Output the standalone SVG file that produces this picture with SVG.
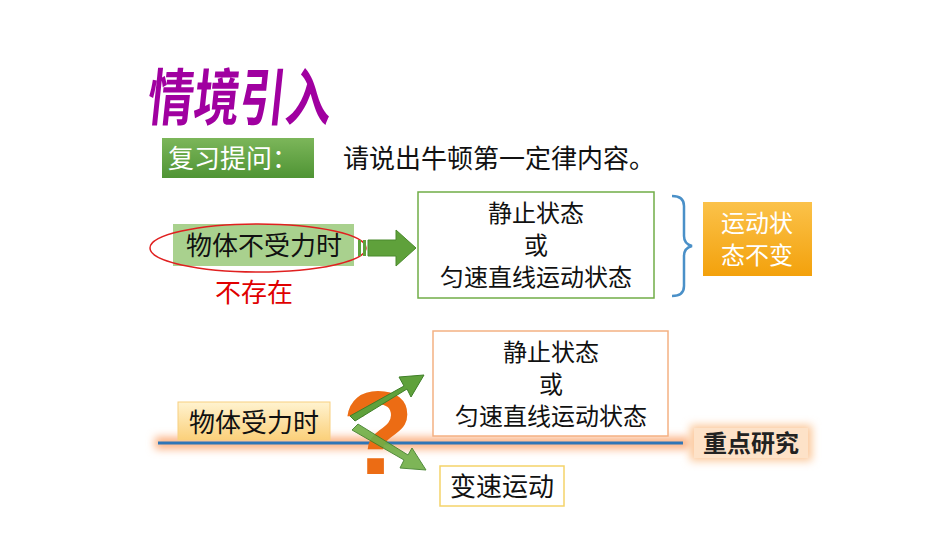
<svg xmlns="http://www.w3.org/2000/svg" width="950" height="535" viewBox="0 0 950 535">
<style>
text{font-family:"Noto Sans CJK SC","Noto Sans CJK JP",sans-serif;font-size:26px;fill:#111}
.c{text-anchor:middle}
.b{font-size:24px}
</style>
<defs>
<linearGradient id="gg" x1="0" y1="0" x2="0" y2="1"><stop offset="0" stop-color="#7cb65a"/><stop offset="1" stop-color="#4f9434"/></linearGradient>
<linearGradient id="og" x1="0" y1="0" x2="0" y2="1"><stop offset="0" stop-color="#fbc24a"/><stop offset="1" stop-color="#f3a10c"/></linearGradient>
<linearGradient id="lo" x1="0" y1="0" x2="0" y2="1"><stop offset="0" stop-color="#fff3d0"/><stop offset="1" stop-color="#fbd07a"/></linearGradient>
<filter id="glow" x="-20%" y="-100%" width="140%" height="300%"><feGaussianBlur stdDeviation="4"/></filter>
</defs>
<rect width="950" height="535" fill="#fff"/>
<text x="0" y="0" transform="translate(146,120) scale(0.82,1.1) skewX(-8)" style="font-size:56px;font-weight:bold;fill:#a000a0">情境引入</text>
<g id="review"><rect x="162" y="138" width="152" height="40" fill="url(#gg)"/><text x="168" y="168" style="fill:#fff">复习提问：</text></g>
<text x="343" y="168">请说出牛顿第一定律内容。</text>
<g id="noforce"><rect x="173" y="224" width="181" height="42" fill="#a9d18e"/><text x="264" y="255" class="c">物体不受力时</text>
<ellipse cx="258" cy="248" rx="108" ry="24" fill="none" stroke="#e02020" stroke-width="1.5"/></g>
<text x="215" y="302" style="fill:#e00000">不存在</text>
<g id="connectors">
<path d="M368 240h28v-10l20 18-20 18v-10h-28z" fill="#5fa13b" stroke="#4a8a2c"/>
<rect x="358" y="240" width="3" height="16" fill="#5fa13b"/><rect x="363" y="240" width="3" height="16" fill="#5fa13b"/>
<path d="M672 196q12 0 12 10v30q0 8 8 10q-8 2 -8 10v30q0 10 -12 10" fill="none" stroke="#4a90c8" stroke-width="2.5"/>
<rect x="155" y="437" width="535" height="12" fill="#fbb080" filter="url(#glow)"/>
<line x1="158" y1="443" x2="683" y2="443" stroke="#2e75b6" stroke-width="3"/>
</g>
<g id="state1"><rect x="418" y="192" width="236" height="106" fill="#fff" stroke="#70ad47" stroke-width="1.5"/>
<text x="536" y="222" class="c b">静止状态</text><text x="536" y="254" class="c b">或</text><text x="536" y="286" class="c b">匀速直线运动状态</text></g>
<g id="unchanged"><rect x="703" y="202" width="109" height="74" fill="url(#og)"/><text x="757" y="232" class="c b" style="fill:#fff">运动状</text><text x="757" y="264" class="c b" style="fill:#fff">态不变</text></g>
<g id="state2"><rect x="433" y="331" width="235" height="105" fill="#fff" stroke="#f4b183" stroke-width="1.5"/>
<text x="551" y="361" class="c b">静止状态</text><text x="551" y="393" class="c b">或</text><text x="551" y="425" class="c b">匀速直线运动状态</text></g>
<g id="force"><rect x="178" y="402" width="152" height="38" fill="url(#lo)" stroke="#f8cf80"/><text x="254" y="432" class="c">物体受力时</text></g>
<g id="question">
<text x="378" y="474" class="c" style="font-size:118px;font-weight:bold;fill:#ec6c14;font-family:'Liberation Sans',sans-serif">?</text>
<path d="M350 416l54-30-5-9 25-2-13 22-4-8-52 32z" fill="#5fa13b" stroke="#3f7f28"/>
<path d="M352 430l52 30-4 8 26 2-14-22-4 7-50-31z" fill="#6fae45" stroke="#3f7f28" opacity="0.9"/>
</g>
<g id="focus"><rect x="690" y="425" width="122" height="36" fill="#fbc89a" filter="url(#glow)"/><rect x="694" y="428" width="114" height="30" fill="#fde2c8"/><text x="751" y="452" class="c" style="font-weight:bold;fill:#222;font-size:24px">重点研究</text></g>
<g id="variable"><rect x="440" y="466" width="124" height="40" fill="#fff" stroke="#f5d36a" stroke-width="1.5"/><text x="502" y="496" class="c">变速运动</text></g>
</svg>
